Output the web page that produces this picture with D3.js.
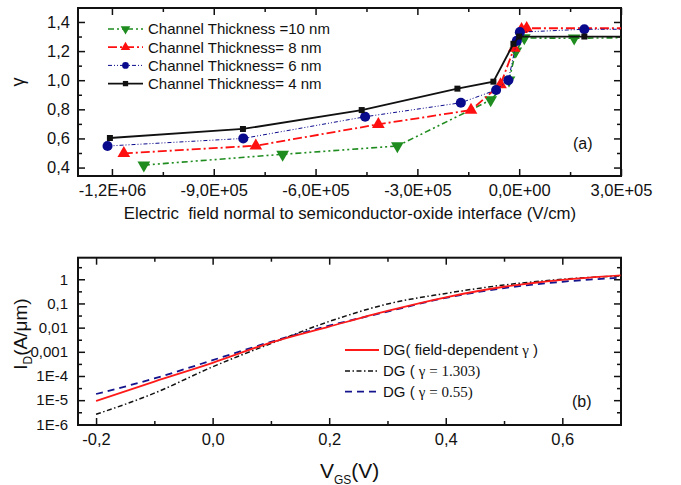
<!DOCTYPE html>
<html>
<head>
<meta charset="utf-8">
<script src="https://cdn.jsdelivr.net/npm/d3@7"></script>
<style>
  html, body { margin: 0; padding: 0; background: #fff; }
  svg { display: block; }
  text { font-family: "Liberation Sans", Arial, sans-serif; fill: #111; }
  .serif { font-family: "Liberation Serif", "Times New Roman", serif; }
</style>
</head>
<body>
<svg id="fig" width="681" height="485"></svg>
<script>
// ---------- Panel (a): gamma vs. normal electric field ----------
const fieldTicksA = [-1.2e6, -9e5, -6e5, -3e5, 0, 3e5];
const fieldTickLabelsA = ["-1,2E+06", "-9,0E+05", "-6,0E+05", "-3,0E+05", "0,0E+00", "3,0E+05"];
const fieldMinorA = [-1.05e6, -7.5e5, -4.5e5, -1.5e5, 1.5e5];
const gammaTicks = [0.4, 0.6, 0.8, 1.0, 1.2, 1.4];
const gammaTickLabels = ["0,4", "0,6", "0,8", "1,0", "1,2", "1,4"];
const gammaMinor = [0.5, 0.7, 0.9, 1.1, 1.3];

// channel thickness 10 nm
const field10 = [-1.106e6, -6.97e5, -3.59e5, -8.4e4, -3.0e4, -1.0e4, 1.5e4, 1.62e5, 3.5e5];
const gamma10 = [0.417, 0.491, 0.548, 0.864, 1.00, 1.20, 1.29, 1.288, 1.293];
// channel thickness 8 nm
const field8 = [-1.165e6, -7.76e5, -4.15e5, -1.42e5, -5.5e4, -1.5e4, 7e3, 2.2e4, 3.5e5];
const gamma8 = [0.497, 0.55, 0.697, 0.795, 0.97, 1.22, 1.35, 1.357, 1.357];
// channel thickness 6 nm
const field6 = [-1.213e6, -8.13e5, -4.54e5, -1.72e5, -6.8e4, -3.2e4, -7e3, 2e3, 1.92e5, 3.5e5];
const gamma6 = [0.548, 0.60, 0.749, 0.845, 0.933, 1.00, 1.27, 1.33, 1.35, 1.35];
// channel thickness 4 nm
const field4 = [-1.206e6, -8.14e5, -4.64e5, -1.82e5, -7.6e4, -1.7e4, 0, 1.92e5, 3.5e5];
const gamma4 = [0.603, 0.665, 0.795, 0.942, 0.99, 1.25, 1.30, 1.30, 1.30];

const seriesNamesA = ["Channel Thickness =10 nm", "Channel Thickness= 8 nm", "Channel Thickness= 6 nm", "Channel Thickness= 4 nm"];

// ---------- Panel (b): drain current vs. gate voltage ----------
const vgsTicks = [-0.2, 0.0, 0.2, 0.4, 0.6];
const vgsTickLabels = ["-0,2", "0,0", "0,2", "0,4", "0,6"];
const vgsMinor = [-0.1, 0.1, 0.3, 0.5, 0.7];
const idTicks = [1e-6, 1e-5, 1e-4, 1e-3, 1e-2, 1e-1, 1];
const idTickLabels = ["1E-6", "1E-5", "1E-4", "0,001", "0,01", "0,1", "1"];
const idMinor = [3.16e-6, 3.16e-5, 3.16e-4, 3.16e-3, 3.16e-2, 3.16e-1, 3.16];

const vgs = [-0.2, -0.1, 0.0, 0.1, 0.2, 0.3, 0.4, 0.5, 0.6, 0.7];
const idFieldDep = [9.3e-6, 5.9e-5, 3.5e-4, 2.4e-3, 1.1e-2, 4.9e-2, 0.18, 0.49, 0.95, 1.45];
const idGamma1303 = [2.6e-6, 1.95e-5, 2.4e-4, 2.2e-3, 1.8e-2, 0.095, 0.26, 0.58, 1.0, 1.38];
const idGamma055 = [1.8e-5, 7.9e-5, 4.5e-4, 2.6e-3, 1.2e-2, 4.6e-2, 0.17, 0.43, 0.79, 1.17];

// ---------------------------------------------------------------
const svg = d3.select("#fig");
svg.append("rect").attr("width", 681).attr("height", 485).attr("fill", "#fff");

const boxA = {l: 78, r: 621, t: 8, b: 176};
const boxB = {l: 78, r: 621, t: 257.7, b: 425};

const xA = d3.scaleLinear().domain([-1.3e6, 3e5]).range([boxA.l, boxA.r]);
const yA = d3.scaleLinear().domain([0.342, 1.496]).range([boxA.b, boxA.t]);
const xB = d3.scaleLinear().domain([-0.231, 0.7007]).range([boxB.l, boxB.r]);
const yB = d3.scaleLog().domain([9.4e-7, 7.8]).range([boxB.b, boxB.t]);

const defs = svg.append("defs");
[["clipA", boxA], ["clipB", boxB]].forEach(([id, b]) => {
  defs.append("clipPath").attr("id", id).append("rect")
    .attr("x", b.l).attr("y", b.t).attr("width", b.r - b.l).attr("height", b.b - b.t);
});

function styleAxis(g, fontSize) {
  g.select(".domain").remove();
  g.selectAll(".tick line").attr("stroke", "#111").attr("stroke-width", 1.5);
  g.attr("font-family", "Liberation Sans, Arial, sans-serif").attr("font-size", fontSize);
  g.selectAll("text").attr("fill", "#111");
}

function drawAxes(box, x, y, o) {
  const fmtX = d => o.xLabels[o.xTicks.indexOf(d)];
  const fmtY = d => o.yLabels[o.yTicks.indexOf(d)];
  // bottom
  svg.append("g").attr("transform", `translate(0,${box.b})`)
    .call(d3.axisBottom(x).tickValues(o.xTicks).tickFormat(fmtX).tickSize(-7).tickPadding(o.xPad))
    .call(g => styleAxis(g, o.xFont));
  svg.append("g").attr("transform", `translate(0,${box.b})`)
    .call(d3.axisBottom(x).tickValues(o.xMinor).tickFormat("").tickSize(-4))
    .call(g => styleAxis(g, 10));
  // top
  svg.append("g").attr("transform", `translate(0,${box.t})`)
    .call(d3.axisTop(x).tickValues(o.xTicks).tickFormat("").tickSize(-7))
    .call(g => styleAxis(g, 10));
  svg.append("g").attr("transform", `translate(0,${box.t})`)
    .call(d3.axisTop(x).tickValues(o.xMinor).tickFormat("").tickSize(-4))
    .call(g => styleAxis(g, 10));
  // left
  svg.append("g").attr("transform", `translate(${box.l},0)`)
    .call(d3.axisLeft(y).tickValues(o.yTicks).tickFormat(fmtY).tickSize(-7).tickPadding(o.yPad))
    .call(g => styleAxis(g, o.yFont));
  svg.append("g").attr("transform", `translate(${box.l},0)`)
    .call(d3.axisLeft(y).tickValues(o.yMinor).tickFormat("").tickSize(-4))
    .call(g => styleAxis(g, 10));
  // right
  svg.append("g").attr("transform", `translate(${box.r},0)`)
    .call(d3.axisRight(y).tickValues(o.yTicks).tickFormat("").tickSize(-7))
    .call(g => styleAxis(g, 10));
  svg.append("g").attr("transform", `translate(${box.r},0)`)
    .call(d3.axisRight(y).tickValues(o.yMinor).tickFormat("").tickSize(-4))
    .call(g => styleAxis(g, 10));
  // frame
  svg.append("rect").attr("x", box.l).attr("y", box.t)
    .attr("width", box.r - box.l).attr("height", box.b - box.t)
    .attr("fill", "none").attr("stroke", "#111").attr("stroke-width", 2);
}

drawAxes(boxA, xA, yA, {
  xTicks: fieldTicksA, xLabels: fieldTickLabelsA, xMinor: fieldMinorA, xPad: 8, xFont: 16.5,
  yTicks: gammaTicks, yLabels: gammaTickLabels, yMinor: gammaMinor, yPad: 8, yFont: 16.5
});
drawAxes(boxB, xB, yB, {
  xTicks: vgsTicks, xLabels: vgsTickLabels, xMinor: vgsMinor, xPad: 8, xFont: 16.5,
  yTicks: idTicks, yLabels: idTickLabels, yMinor: idMinor, yPad: 10, yFont: 15
});

// ---------- Panel (a) series ----------
const markerSym = {
  tri: d3.symbol().type(d3.symbolTriangle),
  circ: d3.symbol().type(d3.symbolCircle),
  sq: d3.symbol().type(d3.symbolSquare)
};

const seriesA = [
  {xs: field10, ys: gamma10, color: "#1e8c1e", dash: "6,3,2,3,2,3", width: 1.6, shape: "tri", rot: 180, size: 70, lsize: 40},
  {xs: field8,  ys: gamma8,  color: "#ff1010", dash: "9,3,2,3",     width: 1.8, shape: "tri", rot: 0,   size: 70, lsize: 40},
  {xs: field6,  ys: gamma6,  color: "#0a0a8c", dash: "4,2,1,2,1,2", width: 1.0, shape: "circ", rot: 0,  size: 80, lsize: 36},
  {xs: field4,  ys: gamma4,  color: "#111111", dash: null,          width: 1.8, shape: "sq",  rot: 0,   size: 36, lsize: 28}
];

const plotA = svg.append("g").attr("clip-path", "url(#clipA)");
seriesA.forEach(s => {
  const pts = s.xs.map((x, i) => [x, s.ys[i]]);
  plotA.append("path")
    .attr("d", d3.line().x(d => xA(d[0])).y(d => yA(d[1]))(pts))
    .attr("fill", "none").attr("stroke", s.color).attr("stroke-width", s.width)
    .attr("stroke-dasharray", s.dash);
  plotA.selectAll(null).data(pts).join("path")
    .attr("d", markerSym[s.shape].size(s.size))
    .attr("transform", d => `translate(${xA(d[0])},${yA(d[1])}) rotate(${s.rot})`)
    .attr("fill", s.color);
});

// legend (a)
const legA = svg.append("g");
seriesA.forEach((s, i) => {
  const yy = 29 + i * 18.2;
  legA.append("line").attr("x1", 108).attr("x2", 143).attr("y1", yy).attr("y2", yy)
    .attr("stroke", s.color).attr("stroke-width", s.width).attr("stroke-dasharray", s.dash);
  legA.append("path").attr("d", markerSym[s.shape].size(s.lsize))
    .attr("transform", `translate(125.5,${yy}) rotate(${s.rot})`).attr("fill", s.color);
  legA.append("text").attr("x", 148).attr("y", yy + 5.3).attr("font-size", 15)
    .text(seriesNamesA[i]);
});

svg.append("text").attr("x", 573).attr("y", 148.5).attr("font-size", 16).text("(a)");

svg.append("text")
  .attr("transform", "translate(24,82) rotate(-90)")
  .attr("text-anchor", "middle").attr("font-size", 18).text("γ");

svg.append("text").attr("x", 350).attr("y", 218.5).attr("text-anchor", "middle")
  .attr("font-size", 16.8).style("white-space", "pre")
  .text("Electric  field normal to semiconductor-oxide interface (V/cm)");

// ---------- Panel (b) series ----------
const seriesB = [
  {ys: idFieldDep,  color: "#ff1a1a", dash: null,            width: 1.8},
  {ys: idGamma1303, color: "#111111", dash: "5,2.5,1.5,2.5", width: 1.5},
  {ys: idGamma055,  color: "#14148c", dash: "7,5",           width: 1.8}
];
const plotB = svg.append("g").attr("clip-path", "url(#clipB)");
const lineB = d3.line().x(d => xB(d[0])).y(d => yB(d[1])).curve(d3.curveMonotoneX);
[seriesB[2], seriesB[1], seriesB[0]].forEach(s => {
  plotB.append("path")
    .attr("d", lineB(vgs.map((v, i) => [v, s.ys[i]])))
    .attr("fill", "none").attr("stroke", s.color).attr("stroke-width", s.width)
    .attr("stroke-dasharray", s.dash);
});

// legend (b)
const legB = svg.append("g");
seriesB.forEach((s, i) => {
  const yy = [350, 371, 391.7][i];
  legB.append("line").attr("x1", 345).attr("x2", 379).attr("y1", yy).attr("y2", yy)
    .attr("stroke", s.color).attr("stroke-width", s.width).attr("stroke-dasharray", s.dash);
});
const t0 = legB.append("text").attr("x", 383).attr("y", 355.3).attr("font-size", 15);
t0.append("tspan").text("DG( field-dependent ");
t0.append("tspan").attr("class", "serif").text("γ");
t0.append("tspan").text(" )");
const t1 = legB.append("text").attr("x", 383).attr("y", 376.3).attr("font-size", 15);
t1.append("tspan").text("DG ( ");
t1.append("tspan").attr("class", "serif").text("γ = 1.303)");
const t2 = legB.append("text").attr("x", 383).attr("y", 397).attr("font-size", 15);
t2.append("tspan").text("DG ( ");
t2.append("tspan").attr("class", "serif").text("γ = 0.55)");

svg.append("text").attr("x", 572).attr("y", 406.5).attr("font-size", 16).text("(b)");

// axis titles (b)
const yTitle = svg.append("text")
  .attr("transform", "translate(27,334) rotate(-90)")
  .attr("text-anchor", "middle").attr("font-size", 19);
yTitle.append("tspan").text("I");
yTitle.append("tspan").attr("font-size", 12).attr("dy", 5).text("D");
yTitle.append("tspan").attr("dy", -5).text("(A/μm)");

const xTitle = svg.append("text").attr("x", 320).attr("y", 477.5).attr("font-size", 21);
xTitle.append("tspan").text("V");
xTitle.append("tspan").attr("font-size", 12).attr("dy", 6).text("GS");
xTitle.append("tspan").attr("dy", -6).text("(V)");
</script>
</body>
</html>
